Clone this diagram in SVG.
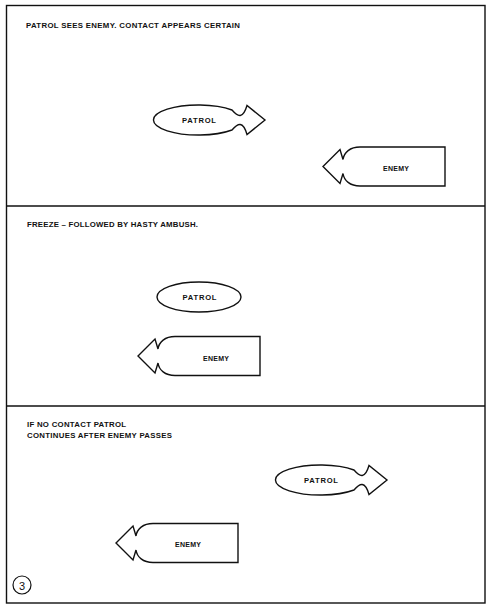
<svg xmlns="http://www.w3.org/2000/svg" width="491" height="610" viewBox="0 0 491 610">
<style>
.frame{fill:none;stroke:#111;stroke-width:1.4}
.shape{fill:#fff;stroke:#111;stroke-width:1.4;stroke-linejoin:miter}
.cap{font-family:"Liberation Sans",Arial,sans-serif;font-weight:bold;font-size:7.8px;fill:#111}
.lbl{font-family:"Liberation Sans",Arial,sans-serif;font-weight:bold;font-size:7.6px;fill:#111;text-anchor:middle;dominant-baseline:central}
.lble{font-family:"Liberation Sans",Arial,sans-serif;font-weight:bold;font-size:7px;fill:#111;text-anchor:middle;dominant-baseline:central}
</style>
<defs>
<path id="patrolShape" d="M232,110 A45,15 0 1 0 232,130 C238,123 243,121 247,134.5 L265,120 L247,105.5 C243,119 238,117 232,110 Z"/>
<path id="enemyShape" d="M0,0 L17,-17 L20,-7 C21,-14 27,-19.5 37,-19.5 L122,-19.5 L122,19.5 L37,19.5 C27,19.5 21,14 20,7 L17,17 Z"/>
</defs>
<rect width="491" height="610" fill="#fff"/>
<g id="frame">
<rect class="frame" x="6.5" y="5.5" width="478.5" height="597.5"/>
<line class="frame" x1="6.5" y1="206" x2="485" y2="206"/>
<line class="frame" x1="6.5" y1="406" x2="485" y2="406"/>
</g>
<g id="panel1">
<text class="cap" x="26" y="28" textLength="214" lengthAdjust="spacing">PATROL SEES ENEMY. CONTACT APPEARS CERTAIN</text>
<g id="patrol1">
<use href="#patrolShape" class="shape"/>
<text class="lbl" x="199" y="120" textLength="34" lengthAdjust="spacing">PATROL</text>
</g>
<g id="enemy1">
<use href="#enemyShape" class="shape" transform="translate(323,166.5)"/>
<text class="lble" x="396" y="168" textLength="26" lengthAdjust="spacing">ENEMY</text>
</g>
</g>
<g id="panel2">
<text class="cap" x="27" y="227" textLength="171" lengthAdjust="spacing">FREEZE – FOLLOWED BY HASTY AMBUSH.</text>
<g id="patrol2">
<ellipse class="shape" cx="199" cy="297" rx="42" ry="15"/>
<text class="lbl" x="199.5" y="297" textLength="34" lengthAdjust="spacing">PATROL</text>
</g>
<g id="enemy2">
<use href="#enemyShape" class="shape" transform="translate(138,356)"/>
<text class="lble" x="216" y="358" textLength="26" lengthAdjust="spacing">ENEMY</text>
</g>
</g>
<g id="panel3">
<text class="cap" x="27" y="427" textLength="99" lengthAdjust="spacing">IF NO CONTACT PATROL</text>
<text class="cap" x="27" y="438" textLength="145" lengthAdjust="spacing">CONTINUES AFTER ENEMY PASSES</text>
<g id="patrol3">
<use href="#patrolShape" class="shape" transform="translate(122,360)"/>
<text class="lbl" x="321" y="480" textLength="34" lengthAdjust="spacing">PATROL</text>
</g>
<g id="enemy3">
<use href="#enemyShape" class="shape" transform="translate(116,543)"/>
<text class="lble" x="188" y="544" textLength="26" lengthAdjust="spacing">ENEMY</text>
</g>
<g id="figNumber">
<circle cx="22" cy="585" r="9" fill="none" stroke="#111" stroke-width="1.2"/>
<text x="22" y="585.5" style="font-family:'Liberation Sans',Arial,sans-serif;font-size:11px;fill:#111;text-anchor:middle;dominant-baseline:central">3</text>
</g>
</g>
</svg>
